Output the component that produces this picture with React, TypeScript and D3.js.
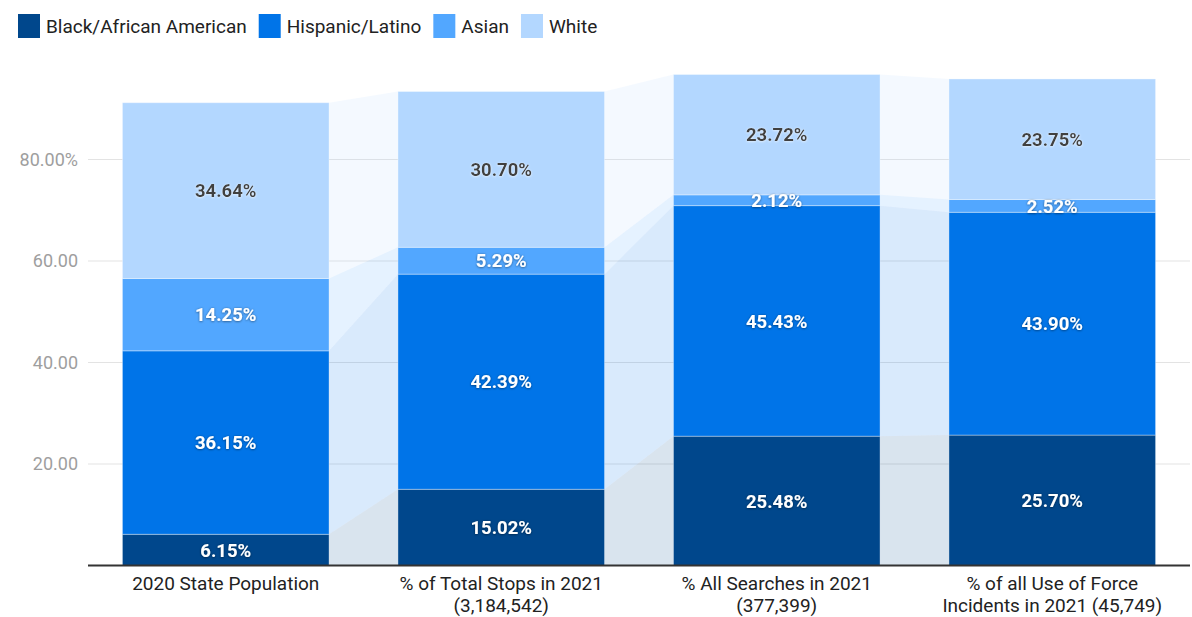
import React, { useMemo } from "react";
import * as d3 from "d3";

// Categories shown along the x axis (each may wrap onto two lines)
const categories: string[][] = [
  ["2020 State Population"],
  ["% of Total Stops in 2021", "(3,184,542)"],
  ["% All Searches in 2021", "(377,399)"],
  ["% of all Use of Force", "Incidents in 2021 (45,749)"],
];

const seriesNames = ["Black/African American", "Hispanic/Latino", "Asian", "White"];

// Percentage of each group for each category
const black = [6.15, 15.02, 25.48, 25.7];
const hispanic = [36.15, 42.39, 45.43, 43.9];
const asian = [14.25, 5.29, 2.12, 2.52];
const white = [34.64, 30.7, 23.72, 23.75];

const yTicks = [20, 40, 60, 80];
const yTickLabels = ["20.00", "40.00", "60.00", "80.00%"];

const colors = ["#00478c", "#0074e8", "#52a7ff", "#b3d7ff"];
const labelColors = ["#ffffff", "#ffffff", "#ffffff", "#404040"];

const W = 1192;
const H = 617;
const FONT = "Roboto, 'Noto Sans', sans-serif";

export default function App() {
  const values = [black, hispanic, asian, white];

  const table = categories.map((c, i) => {
    const row: Record<string, number> = { idx: i };
    seriesNames.forEach((s, k) => (row[s] = values[k][i]));
    return row;
  });
  const stacked = d3.stack<Record<string, number>>().keys(seriesNames)(table);

  const x = d3
    .scaleBand<number>()
    .domain(categories.map((_, i) => i))
    .range([88, 1190])
    .paddingInner(0.25)
    .paddingOuter(0.125);
  const y = d3.scaleLinear().domain([0, 100]).range([565.5, 58]);
  const bw = x.bandwidth();

  // Legend layout measured with a canvas
  const legend = useMemo(() => {
    const ctx = document.createElement("canvas").getContext("2d")!;
    ctx.font = `19px ${FONT}`;
    let cx = 18;
    return seriesNames.map((name, i) => {
      const item = { name, x: cx, color: colors[i] };
      cx += 22 + 6 + ctx.measureText(name).width + 12;
      return item;
    });
  }, []);

  return (
    <svg width={W} height={H} style={{ position: "absolute", left: 0, top: 0, fontFamily: FONT }}>
      <defs>
        <filter id="shadowDark" x="-20%" y="-40%" width="140%" height="180%">
          <feDropShadow dx="0" dy="0.5" stdDeviation="1.2" floodColor="#000" floodOpacity="0.55" />
        </filter>
        <filter id="shadowLight" x="-20%" y="-40%" width="140%" height="180%">
          <feDropShadow dx="0" dy="0.5" stdDeviation="1.2" floodColor="#fff" floodOpacity="0.8" />
        </filter>
      </defs>
      <rect width={W} height={H} fill="#fff" />

      {/* legend */}
      {legend.map((l) => (
        <g key={l.name}>
          <rect x={l.x} y={14} width={22} height={24} fill={l.color} />
          <text x={l.x + 28} y={33} fontSize={19} fill="#222">
            {l.name}
          </text>
        </g>
      ))}

      {/* gridlines and y labels */}
      {yTicks.map((t, i) => (
        <g key={t}>
          <line x1={88} x2={1190} y1={y(t)} y2={y(t)} stroke="#e3e3e3" strokeWidth={1} />
          <text x={78} y={y(t)} dy="0.35em" textAnchor="end" fontSize={18} fill="#9e9e9e">
            {yTickLabels[i]}
          </text>
        </g>
      ))}

      {/* connectors between neighbouring bars */}
      {stacked.map((s, k) =>
        s.slice(0, -1).map((d, i) => {
          const n = s[i + 1];
          const x0 = x(i)! + bw;
          const x1 = x(i + 1)!;
          const pts = [
            [x0, y(d[0])],
            [x0, y(d[1])],
            [x1, y(n[1])],
            [x1, y(n[0])],
          ];
          return (
            <polygon
              key={`c${k}-${i}`}
              points={pts.map((p) => p.join(",")).join(" ")}
              fill={colors[k]}
              fillOpacity={0.15}
            />
          );
        })
      )}

      {/* stacked bars */}
      {stacked.map((s, k) =>
        s.map((d, i) => (
          <rect
            key={`b${k}-${i}`}
            x={x(i)!}
            y={y(d[1])}
            width={bw}
            height={y(d[0]) - y(d[1])}
            fill={colors[k]}
            stroke="#ffffff"
            strokeOpacity={0.35}
            strokeWidth={1}
          />
        ))
      )}

      {/* value labels */}
      {stacked.map((s, k) =>
        s.map((d, i) => (
          <text
            key={`l${k}-${i}`}
            x={x(i)! + bw / 2}
            y={y((d[0] + d[1]) / 2)}
            dy="0.36em"
            textAnchor="middle"
            fontSize={18.5}
            fontWeight="bold"
            fill={labelColors[k]}
            filter={k === 3 ? "url(#shadowLight)" : "url(#shadowDark)"}
          >
            {values[k][i].toFixed(2)}%
          </text>
        ))
      )}

      {/* x axis */}
      <line x1={88} x2={1190} y1={565.5} y2={565.5} stroke="#333" strokeWidth={2} />
      {categories.map((lines, i) => (
        <text key={`x${i}`} x={x(i)! + bw / 2} textAnchor="middle" fontSize={19} fill="#222">
          {lines.map((ln, j) => (
            <tspan key={j} x={x(i)! + bw / 2} y={590 + j * 22}>
              {ln}
            </tspan>
          ))}
        </text>
      ))}
    </svg>
  );
}
